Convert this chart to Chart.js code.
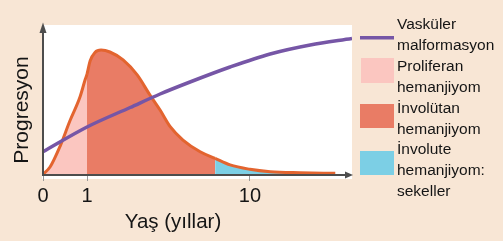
<!DOCTYPE html>
<html>
<head>
<meta charset="utf-8">
<script src="https://cdn.jsdelivr.net/npm/chart.js@4.4.1/dist/chart.umd.min.js"></script>
<style>
  html, body { margin: 0; padding: 0; background: #f8e6d5; }
  canvas { display: block; }
</style>
</head>
<body>
<canvas id="chart" width="503" height="241"></canvas>
<script>
// x is a schematic age axis (not linear in years): tick positions vs. labels
const xTickPos = [0, 1, 4.7];
const xTickLabels = ['0', '1', '10'];

// Vascular malformation: steady growth
const vascX = [0, 1, 1.98, 2.66, 3.34, 4.25, 5.16, 6.07, 7.02];
const vascY = [15.5, 32, 45, 54, 62, 72, 80.7, 86.7, 91];

// Hemangioma: rapid proliferation then involution
const hemX = [0, 0.16, 0.39, 0.61, 0.84, 0.955, 1, 1.07, 1.18, 1.32, 1.52, 1.82, 2.14, 2.43, 2.66, 2.89, 3.18, 3.57, 3.91, 4.25, 4.7, 5.16, 5.84, 6.64];
const hemY = [0.5, 5.3, 19.3, 36, 52, 63.3, 67.3, 76, 81.7, 83.3, 82, 76.7, 66.7, 53.3, 43.3, 32.2, 23.3, 15.5, 11.1, 6.7, 3.8, 2.2, 1.5, 1.1];

// phase boundaries on the x axis: end of proliferation, end of involution
const phaseEnds = [1, 3.91];

const legendLabels = [
  ['Vasküler', 'malformasyon'],
  ['Proliferan', 'hemanjiyom'],
  ['İnvolütan', 'hemanjiyom'],
  ['İnvolute', 'hemanjiyom:', 'sekeller']
];
const xTitle = 'Yaş (yıllar)';
const yTitle = 'Progresyon';

const FONT = '"Liberation Sans", Arial, sans-serif';
const colors = {
  purple: '#7656a6',
  orange: '#e3642f',
  pink: '#fbc6c0',
  red: '#e97c65',
  cyan: '#7ccfe5',
  axis: '#4d4d4d',
  text: '#151515'
};

function phaseColor(x) {
  if (x < phaseEnds[0] - 1e-6) return colors.pink;
  if (x < phaseEnds[1] - 1e-6) return colors.red;
  return colors.cyan;
}

const decor = {
  id: 'decor',
  beforeDraw(chart) {
    const { ctx, chartArea: a } = chart;
    ctx.save();
    ctx.fillStyle = '#ffffff';
    ctx.fillRect(a.left - 1, a.top, a.right - a.left + 1, a.bottom + 4 - a.top);
    ctx.restore();
  },
  afterDatasetsDraw(chart) {
    const { ctx, chartArea: a } = chart;
    ctx.save();
    ctx.strokeStyle = colors.axis;
    ctx.fillStyle = colors.axis;
    ctx.lineWidth = 2;
    // y axis + arrow
    ctx.beginPath();
    ctx.moveTo(a.left, a.bottom + 1);
    ctx.lineTo(a.left, a.top + 6);
    ctx.stroke();
    ctx.beginPath();
    ctx.moveTo(a.left, a.top - 2.5);
    ctx.lineTo(a.left - 3.5, a.top + 8);
    ctx.lineTo(a.left + 3.5, a.top + 8);
    ctx.closePath();
    ctx.fill();
    // x axis + arrow
    ctx.beginPath();
    ctx.moveTo(a.left - 1, a.bottom);
    ctx.lineTo(a.right - 6, a.bottom);
    ctx.stroke();
    ctx.beginPath();
    ctx.moveTo(a.right + 1, a.bottom);
    ctx.lineTo(a.right - 7, a.bottom - 3.5);
    ctx.lineTo(a.right - 7, a.bottom + 3.5);
    ctx.closePath();
    ctx.fill();
    ctx.restore();
  },
  afterDraw(chart) {
    const { ctx } = chart;
    ctx.save();
    ctx.fillStyle = colors.text;

    // axis titles
    ctx.font = '21px ' + FONT;
    ctx.textAlign = 'center';
    ctx.textBaseline = 'alphabetic';
    ctx.save();
    ctx.translate(28, 110);
    ctx.rotate(-Math.PI / 2);
    ctx.fillText(yTitle, 0, 0);
    ctx.restore();
    ctx.font = '20.5px ' + FONT;
    ctx.fillText(xTitle, 173, 228);

    // legend swatches
    ctx.strokeStyle = colors.purple;
    ctx.lineWidth = 3.5;
    ctx.beginPath();
    ctx.moveTo(360, 37.7);
    ctx.lineTo(394, 37.7);
    ctx.stroke();
    ctx.fillStyle = colors.pink;
    ctx.fillRect(361, 58, 33, 25);
    ctx.fillStyle = colors.red;
    ctx.fillRect(360, 104, 34, 24);
    ctx.fillStyle = colors.cyan;
    ctx.fillRect(360, 151, 34, 24);

    // legend text
    ctx.fillStyle = colors.text;
    ctx.font = '15.5px ' + FONT;
    ctx.textAlign = 'left';
    ctx.textBaseline = 'middle';
    let line = 0;
    legendLabels.forEach(lines => {
      lines.forEach(t => {
        ctx.fillText(t, 397, 25 + line * 20.85);
        line++;
      });
    });
    ctx.restore();
  }
};

new Chart(document.getElementById('chart'), {
  type: 'line',
  data: {
    datasets: [
      {
        label: legendLabels[0].join(' '),
        data: vascX.map((x, i) => ({ x, y: vascY[i] })),
        borderColor: colors.purple,
        borderWidth: 3.5,
        pointRadius: 0,
        cubicInterpolationMode: 'monotone',
        fill: false
      },
      {
        label: 'hemanjiyom',
        data: hemX.map((x, i) => ({ x, y: hemY[i] })),
        borderColor: colors.orange,
        borderWidth: 3,
        borderCapStyle: 'butt',
        pointRadius: 0,
        cubicInterpolationMode: 'monotone',
        fill: 'origin',
        backgroundColor: colors.red,
        segment: {
          backgroundColor: c => phaseColor(c.p0.parsed.x)
        }
      }
    ]
  },
  options: {
    responsive: false,
    animation: false,
    devicePixelRatio: 1,
    layout: { padding: { left: 0, top: 25, right: 151, bottom: 0 } },
    plugins: { legend: { display: false }, tooltip: { enabled: false } },
    scales: {
      x: {
        type: 'linear',
        min: 0,
        max: 7.02,
        afterFit: s => { s.height = 66; },
        afterBuildTicks: s => { s.ticks = xTickPos.map(v => ({ value: v })); },
        ticks: {
          callback: (v, i) => xTickLabels[i],
          font: { family: FONT, size: 20 },
          color: colors.text,
          padding: 3,
          maxRotation: 0,
          autoSkip: false
        },
        grid: { drawOnChartArea: false, drawTicks: true, tickLength: 6, color: '#9a9a9a' },
        border: { display: false }
      },
      y: {
        min: 0,
        max: 100,
        afterFit: s => { s.width = 43; },
        ticks: { display: false },
        grid: { display: false },
        border: { display: false }
      }
    }
  },
  plugins: [decor]
});
</script>
</body>
</html>
